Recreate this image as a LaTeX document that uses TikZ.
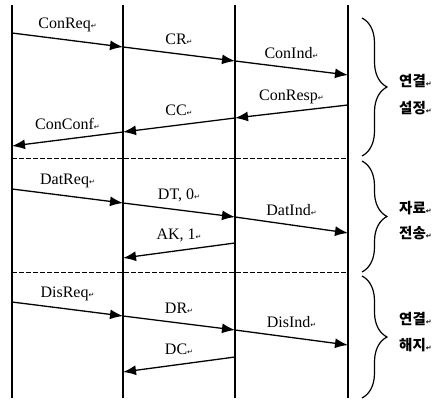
\documentclass[tikz,border=0pt]{standalone}
\usepackage{fontspec}
\setmainfont{Liberation Serif}
\newfontfamily\kr{Noto Sans CJK KR}
\newfontfamily\symf{DejaVu Sans}
\usetikzlibrary{arrows.meta,decorations.pathreplacing}
\newcommand{\pmk}{{\symf\fontsize{7}{7}\selectfont ↵}}
\begin{document}
\begin{tikzpicture}[x=1pt,y=-1pt,
  life/.style={line width=1.4pt},
  msg/.style={line width=1.3pt,-{Latex[length=13pt,width=10pt]}},
  sep/.style={line width=1pt,dash pattern=on 4.5pt off 2.5pt},
  lbl/.style={midway,yshift=15pt,inner sep=0pt,font=\fontsize{16}{18}\selectfont},
  brc/.style={line width=1.2pt,decorate,decoration={brace,amplitude=25pt}},
  phase/.style={anchor=west,inner sep=0pt,font=\kr\bfseries\fontsize{14.5}{16}\selectfont}]
\useasboundingbox (0,0) rectangle (437,401);
% lifelines
\foreach \n/\x in {A/12,B/123,C/235,D/348}{
  \coordinate (\n top) at (\x,5);
  \coordinate (\n bot) at (\x,398);
  \draw[life] (\n top) -- (\n bot);
}
% event points
\coordinate (a1) at (12,33);  \coordinate (b1) at (123,47);
\coordinate (c1) at (235,61); \coordinate (d1) at (348,75);
\coordinate (d2) at (348,105); \coordinate (c2) at (235,118);
\coordinate (b2) at (123,132); \coordinate (a2) at (12,146);
\coordinate (a3) at (12,189);  \coordinate (b3) at (123,203);
\coordinate (c3) at (235,217); \coordinate (d3) at (348,233);
\coordinate (c4) at (235,243); \coordinate (b4) at (123,258);
\coordinate (a5) at (12,302);  \coordinate (b5) at (123,316);
\coordinate (c5) at (235,330); \coordinate (d5) at (348,345);
\coordinate (c6) at (235,357); \coordinate (b6) at (123,372);
% messages
\draw[msg] (a1) -- (b1) node[lbl]{ConReq\pmk};
\draw[msg] (b1) -- (c1) node[lbl]{CR\pmk};
\draw[msg] (c1) -- (d1) node[lbl]{ConInd\pmk};
\draw[msg] (d2) -- (c2) node[lbl]{ConResp\pmk};
\draw[msg] (c2) -- (b2) node[lbl]{CC\pmk};
\draw[msg] (b2) -- (a2) node[lbl]{ConConf\pmk};
\draw[msg] (a3) -- (b3) node[lbl]{DatReq\pmk};
\draw[msg] (b3) -- (c3) node[lbl]{DT, 0\pmk};
\draw[msg] (c3) -- (d3) node[lbl]{DatInd\pmk};
\draw[msg] (c4) -- (b4) node[lbl]{AK, 1\pmk};
\draw[msg] (a5) -- (b5) node[lbl]{DisReq\pmk};
\draw[msg] (b5) -- (c5) node[lbl]{DR\pmk};
\draw[msg] (c5) -- (d5) node[lbl]{DisInd\pmk};
\draw[msg] (c6) -- (b6) node[lbl]{DC\pmk};
% separators
\coordinate (s1a) at (12,159); \coordinate (s1b) at (348,159);
\coordinate (s2a) at (12,273); \coordinate (s2b) at (348,273);
\draw[sep] (s1a) -- (s1b);
\draw[sep] (s2a) -- (s2b);
% braces
\coordinate (br1t) at (362,18);  \coordinate (br1b) at (362,156);
\coordinate (br2t) at (362,161); \coordinate (br2b) at (362,272);
\coordinate (br3t) at (362,276); \coordinate (br3b) at (362,398);
\draw[brc] (br1t) -- (br1b);
\draw[brc] (br2t) -- (br2b);
\draw[brc] (br3t) -- (br3b);
% phase labels
\node[phase] (p1a) at (399,81) {연결\pmk};
\node[phase] (p1b) at (399,108) {설정\pmk};
\node[phase] (p2a) at (399,208) {자료\pmk};
\node[phase] (p2b) at (399,233) {전송\pmk};
\node[phase] (p3a) at (399,319) {연결\pmk};
\node[phase] (p3b) at (399,345) {해지\pmk};
\end{tikzpicture}
\end{document}
